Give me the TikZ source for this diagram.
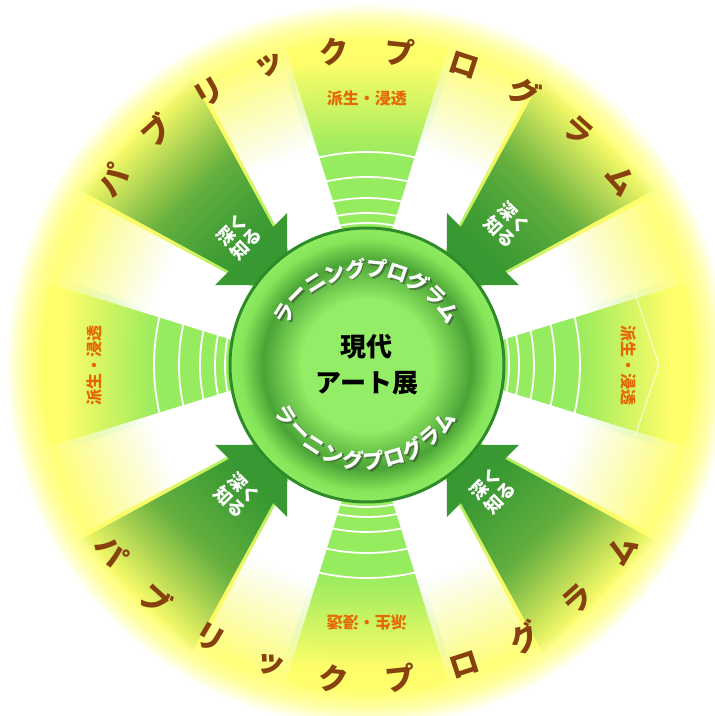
\documentclass[tikz,border=0pt]{standalone}
\usepackage{fontspec}
\setmainfont{Noto Sans CJK JP}
\usetikzlibrary{fadings}

\definecolor{arrowgreen}{RGB}{56,152,50}
\definecolor{bandgreen}{RGB}{150,236,95}
\definecolor{hubedge}{RGB}{45,140,40}
\definecolor{pubbrown}{RGB}{135,65,15}
\definecolor{haseiorange}{RGB}{228,105,5}

\tikzfading[name=fadebeam, left color=transparent!0, right color=transparent!100, middle color=transparent!0]
\tikzfading[name=fadeshaft, left color=transparent!0, right color=transparent!100, middle color=transparent!25]

% radii: path edge = 25bp
\pgfdeclareradialshading{bgdisc}{\pgfpoint{0bp}{0bp}}{rgb(0bp)=(0.50,0.85,0.30); rgb(9.7bp)=(0.58,0.92,0.35); rgb(13.8bp)=(0.80,0.95,0.37); rgb(17.3bp)=(0.97,0.98,0.40); rgb(22.4bp)=(1,1,0.42); rgb(23.8bp)=(1,1,0.66); rgb(25bp)=(1,1,1); rgb(50bp)=(1,1,1)}
\pgfdeclareradialshading{hub}{\pgfpoint{0bp}{0bp}}{rgb(0bp)=(0.58,0.93,0.40); rgb(12bp)=(0.58,0.93,0.40); rgb(19bp)=(0.29,0.64,0.21); rgb(23bp)=(0.52,0.90,0.35); rgb(25bp)=(0.56,0.92,0.38); rgb(50bp)=(0.56,0.92,0.38)}

\begin{document}
\begin{tikzpicture}[x=1pt, y=1pt,
    pubchar/.style={text=pubbrown, font=\fontsize{30}{30}\selectfont\bfseries, inner sep=0},
    hasei/.style={text=haseiorange, font=\fontsize{16}{16}\selectfont\bfseries, inner sep=0},
    learnchar/.style={text=white, font=\fontsize{21}{21}\selectfont\bfseries, inner sep=0},
    learnshadow/.style={learnchar, text=black!80, opacity=0.45},
    fukaku/.style={text=white, font=\fontsize{18}{20}\selectfont\bfseries, align=center, inner sep=0}]
    % picture frame
    \useasboundingbox (-367,-351) rectangle (348,365);
    \shade[shading=bgdisc] (0,0) circle (362);

    % shafts of the four inward arrows
    \foreach \a in {45,135,225,315}{
        \begin{scope}[transform canvas={rotate=\a}]
            \fill[arrowgreen, path fading=fadeshaft] (160,-30) -- (330,-80) -- (330,80) -- (160,30) -- cycle;
        \end{scope}
    }

    % bands with rings
    \foreach \a in {0,90,180,270}{
        \begin{scope}[transform canvas={rotate=\a}]
            \fill[bandgreen, path fading=fadebeam] (105,-18) -- (300,-84) -- (300,84) -- (105,18) -- cycle;
            \begin{scope}
                \clip (105,-18) -- (300,-84) -- (300,84) -- (105,18) -- cycle;
                \foreach \r in {142,152,167,188,213}
                    \draw[white, line width=1.8] (0,0) circle (\r);
            \end{scope}
        \end{scope}
    }
    \draw[white, opacity=0.7, line width=1] (268,-72) -- (292,0) -- (268,72);

    % white beams
    \foreach \a in {22.5,67.5,...,337.5}{
        \begin{scope}[transform canvas={rotate=\a}]
            \fill[white, path fading=fadebeam] (108,-26) -- (335,-47) -- (335,47) -- (108,26) -- cycle;
        \end{scope}
    }

    % arrow heads
    \foreach \a in {45,135,225,315}{
        \begin{scope}[transform canvas={rotate=\a}]
            \fill[arrowgreen] (164,-51) -- (113,0) -- (164,51) -- cycle;
        \end{scope}
    }

    % hub
    \shade[shading=hub] (0,0) circle (137);
    \draw[hubedge, line width=3] (0,0) circle (137);
    \node[font=\fontsize{26}{36}\selectfont\bfseries, align=center, inner sep=0] (title) at (0,0) {現代\\アート展};

    % learning program, upper and lower arc
    \foreach \c [count=\i from 0] in {ラ,ー,ニ,ン,グ,プ,ロ,グ,ラ,ム}{
        \pgfmathsetmacro\ang{148-12.8*\i}
        \node[learnshadow, xshift=1.8pt, yshift=-1.8pt, rotate=\ang-90] (learnsh\i) at (\ang:97) {\c};
        \node[learnchar, rotate=\ang-90] (learn\i) at (\ang:97) {\c};
        \pgfmathsetmacro\bng{212+12.4*\i}
        \node[learnshadow, xshift=1.8pt, yshift=-1.8pt, rotate=\bng+90] (learnlsh\i) at (\bng:96) {\c};
        \node[learnchar, rotate=\bng+90] (learnl\i) at (\bng:96) {\c};
    }

    % public program, upper and lower arc
    \foreach \c [count=\i from 0] in {パ,ブ,リ,ッ,ク,プ,ロ,グ,ラ,ム}{
        \pgfmathsetmacro\ang{144-12*\i}
        \node[pubchar, rotate=\ang-90] (pub\i) at (\ang:315) {\c};
        \pgfmathsetmacro\bng{216+12*\i}
        \node[pubchar, rotate=\bng+90] (publ\i) at (\bng:315) {\c};
    }

    % labels
    \node[hasei] (haseiN) at (90:267) {派生・浸透};
    \node[hasei, rotate=-90] (haseiE) at (0:262) {派生・浸透};
    \node[hasei, rotate=180] (haseiS) at (270:258) {派生・浸透};
    \node[hasei, rotate=90] (haseiW) at (180:273) {派生・浸透};

    \node[fukaku, rotate=-45] (fukaNE) at (45:198) {深く\\知る};
    \node[fukaku, rotate=45] (fukaNW) at (135:181) {深く\\知る};
    \node[fukaku, rotate=-45] (fukaSW) at (225:184) {深く\\知る};
    \node[fukaku, rotate=45] (fukaSE) at (315:178) {深く\\知る};
\end{tikzpicture}
\end{document}
